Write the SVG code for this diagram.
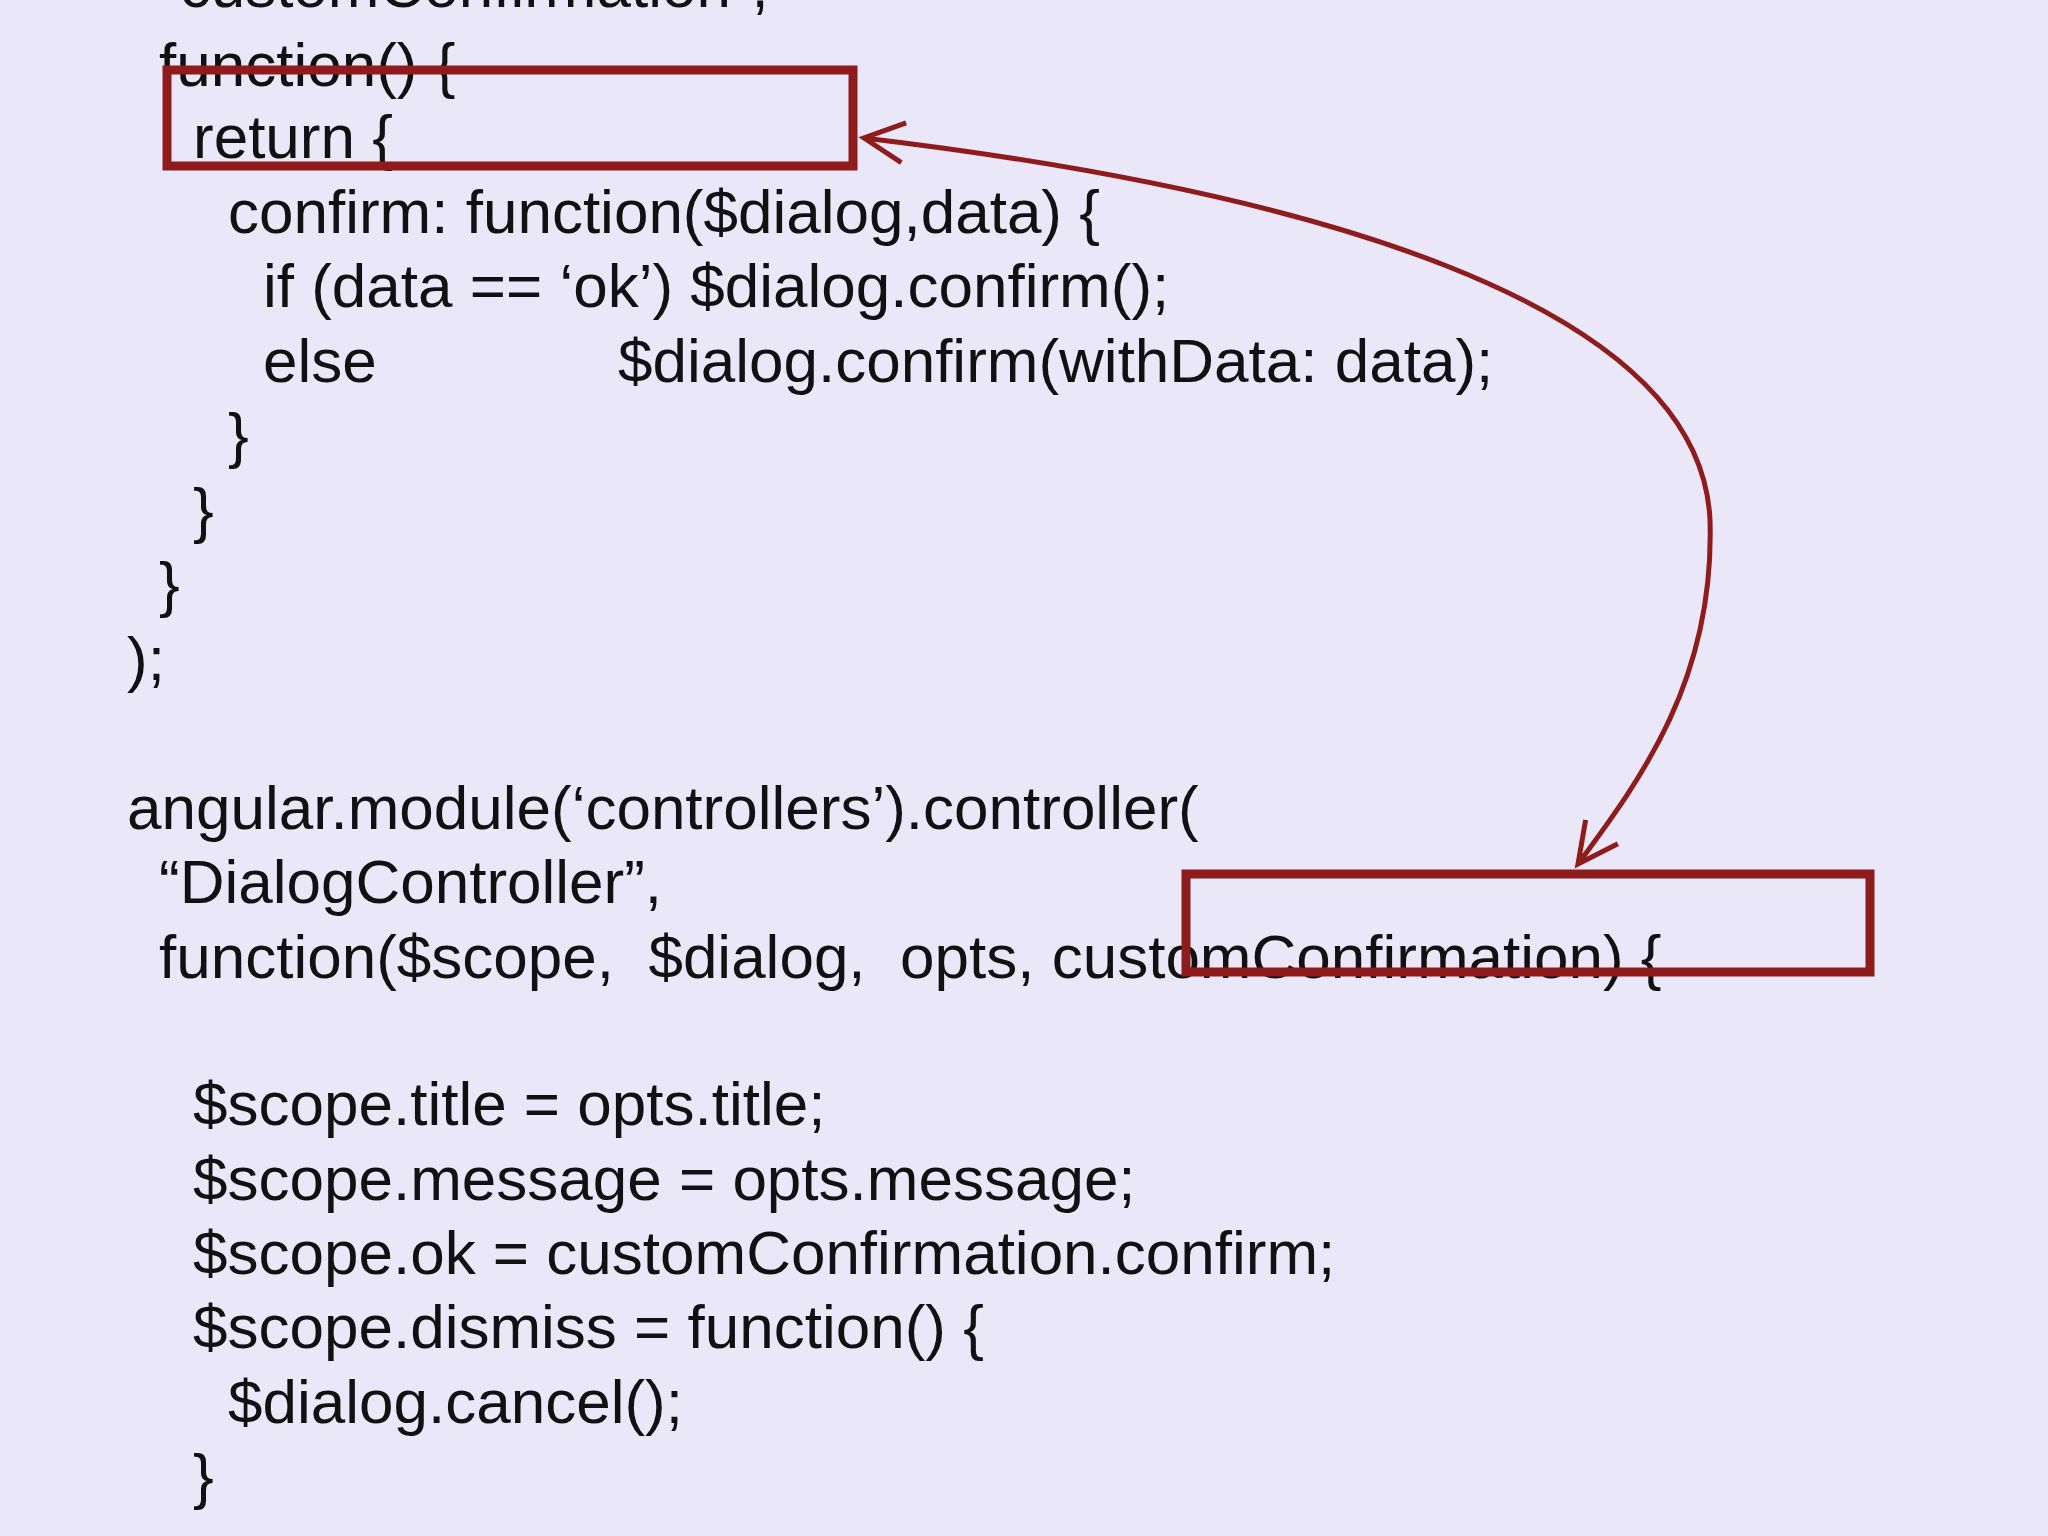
<svg xmlns="http://www.w3.org/2000/svg" width="2048" height="1536" viewBox="0 0 2048 1536">
<defs>
<style>
text{font-family:"Liberation Sans",Arial,sans-serif;font-size:62px;fill:#111;}
.box{fill:none;stroke:#8e1c1c;stroke-width:9;}
.conn{fill:none;stroke:#8e1c1c;stroke-width:5;}
</style>
<marker id="ah" viewBox="0 0 20 20" refX="20" refY="10" markerWidth="40" markerHeight="40" orient="auto-start-reverse" markerUnits="userSpaceOnUse" style="overflow:visible">
<path d="M 0 0 L 20 10 L 0 20" fill="none" stroke="#8e1c1c" stroke-width="2.5"/>
</marker>
</defs>
<rect width="2048" height="1536" fill="#eae8f8"/>
<g id="code">
<text x="159" y="7">“customConfirmation”,</text>
<text x="159" y="86">function() {</text>
<text x="193" y="158">return {</text>
<text x="228" y="233">confirm: function($dialog,data) {</text>
<text x="263" y="307">if (data == ‘ok’) $dialog.confirm();</text>
<text x="263" y="382">else</text>
<text x="618" y="382">$dialog.confirm(withData: data);</text>
<text x="228" y="456">}</text>
<text x="193" y="531">}</text>
<text x="159" y="605">}</text>
<text x="127" y="680">);</text>
<text x="127" y="829">angular.module(‘controllers’).controller(</text>
<text x="159" y="903">“DialogController”,</text>
<text x="159" y="978" xml:space="preserve">function($scope,  $dialog,  opts, customConfirmation) {</text>
<text x="193" y="1125">$scope.title = opts.title;</text>
<text x="193" y="1200">$scope.message = opts.message;</text>
<text x="193" y="1274">$scope.ok = customConfirmation.confirm;</text>
<text x="193" y="1348">$scope.dismiss = function() {</text>
<text x="228" y="1423">$dialog.cancel();</text>
<text x="193" y="1497">}</text>
</g>
<g id="box1"><rect class="box" x="167" y="70" width="686" height="96"/></g>
<g id="box2"><rect class="box" x="1186" y="874" width="684" height="98"/></g>
<g id="connectors">
<path class="conn" d="M 864 138 C 1300 190, 1700 300, 1710 520 C 1715 680, 1640 780, 1578 864" marker-start="url(#ah)" marker-end="url(#ah)"/>
</g>
</svg>
